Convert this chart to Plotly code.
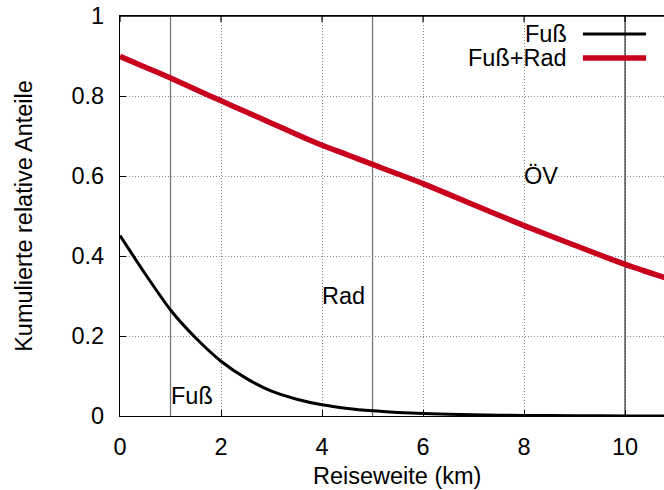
import plotly.graph_objects as go

# ---- data ----
x_km = [0, 0.5, 1, 1.5, 2, 2.5, 3, 3.5, 4, 4.5, 5, 5.5, 6, 7, 8, 9, 10, 11]
fuss = [0.451, 0.355, 0.265, 0.195, 0.137, 0.094, 0.062, 0.042, 0.028, 0.019,
        0.013, 0.009, 0.006, 0.003, 0.0015, 0.0007, 0.0003, 0.0001]
fuss_rad = [0.899, 0.872, 0.845, 0.816, 0.788, 0.760, 0.732, 0.704, 0.677, 0.653,
            0.629, 0.605, 0.581, 0.528, 0.476, 0.427, 0.379, 0.337]
series_names = ["Fuß", "Fuß+Rad"]

mode_limits_km = [1, 5, 10]
mode_labels = ["Fuß", "Rad", "ÖV"]
mode_label_x = [1, 4, 8]
mode_label_y = [0.05, 0.3, 0.6]

x_ticks = [0, 2, 4, 6, 8, 10]
x_tick_labels = ["0", "2", "4", "6", "8", "10"]
y_ticks = [0, 0.2, 0.4, 0.6, 0.8, 1]
y_tick_labels = ["0", "0.2", "0.4", "0.6", "0.8", "1"]

x_title = "Reiseweite (km)"
y_title = "Kumulierte relative Anteile"

# ---- styles ----
FONT = "Liberation Sans, Arial, Helvetica, sans-serif"
FS = 23.5
colors = ["#000000", "#c8001e"]
widths = [3, 5.5]
limit_colors = ["#777777", "#777777", "#222222"]
PLOT_H = 400  # plot-area height in px (for tick length in paper units)

fig = go.Figure()
for name, ys, c, w in zip(series_names, [fuss, fuss_rad], colors, widths):
    fig.add_trace(go.Scatter(x=x_km, y=ys, mode="lines", name=name,
                             line=dict(color=c, width=w, shape="spline", smoothing=0.6),
                             showlegend=False, hoverinfo="skip"))

for xv, c in zip(mode_limits_km, limit_colors):
    fig.add_shape(type="line", xref="x", yref="paper", x0=xv, x1=xv, y0=0, y1=1,
                  line=dict(color=c, width=1.3), layer="below")

# top border with inward ticks (gnuplot frame)
fig.add_shape(type="line", xref="paper", yref="paper", x0=0, x1=1, y0=1, y1=1,
              line=dict(color="black", width=1.5), layer="above")
for xv in x_ticks:
    fig.add_shape(type="line", xref="x", yref="paper", x0=xv, x1=xv,
                  y0=1, y1=1 - 6 / PLOT_H, line=dict(color="black", width=1.2))

for t, xv, yv in zip(mode_labels, mode_label_x, mode_label_y):
    fig.add_annotation(x=xv, y=yv, xref="x", yref="y", text=t, showarrow=False,
                       xanchor="left", yanchor="middle", xshift=-2,
                       font=dict(family=FONT, size=FS, color="black"))

# manual gnuplot-style legend (text right, sample line on right)
leg_y = [0.955, 0.895]
for name, c, w, ly in zip(series_names, colors, widths, leg_y):
    fig.add_annotation(x=0.822, y=ly, xref="paper", yref="paper", text=name,
                       showarrow=False, xanchor="right", yanchor="middle", xshift=2,
                       font=dict(family=FONT, size=FS, color="black"))
    fig.add_shape(type="line", xref="paper", yref="paper", x0=0.851, x1=0.967,
                  y0=ly, y1=ly, line=dict(color=c, width=w))

# x axis title (gnuplot centres it on the full, wider plot area)
fig.add_annotation(x=0.509, y=-0.15, xref="paper", yref="paper", text=x_title,
                   showarrow=False, xanchor="center", yanchor="middle",
                   font=dict(family=FONT, size=FS, color="black"))

fig.update_layout(
    width=664, height=490,
    margin=dict(l=120, r=0, t=16, b=74),
    paper_bgcolor="white", plot_bgcolor="white",
    font=dict(family=FONT, size=FS, color="black"),
    showlegend=False,
)
fig.update_xaxes(range=[0, 10.77], tickvals=x_ticks, ticktext=x_tick_labels,
                 showline=True, linecolor="black", linewidth=1.2, mirror=True,
                 ticks="inside", ticklen=6, tickcolor="black",
                 showgrid=True, gridcolor="#888888", griddash="1px,2px", gridwidth=1,
                 zeroline=False, ticklabelstandoff=10, automargin=False)
fig.update_yaxes(range=[0, 1], tickvals=y_ticks, ticktext=y_tick_labels,
                 showline=True, linecolor="black", linewidth=1.2, mirror=False,
                 ticks="inside", ticklen=6, tickcolor="black",
                 showgrid=True, gridcolor="#888888", griddash="1px,2px", gridwidth=1,
                 zeroline=False, ticklabelstandoff=10, automargin=False,
                 ticklabeloverflow="allow",
                 title=dict(text=y_title, standoff=32, font=dict(size=FS)))

# remove the browser's default 8px body margin so the figure sits at the page corner
fig.write_html("out.html", config={"displayModeBar": False},
               post_script="document.body.style.margin='0px';")
